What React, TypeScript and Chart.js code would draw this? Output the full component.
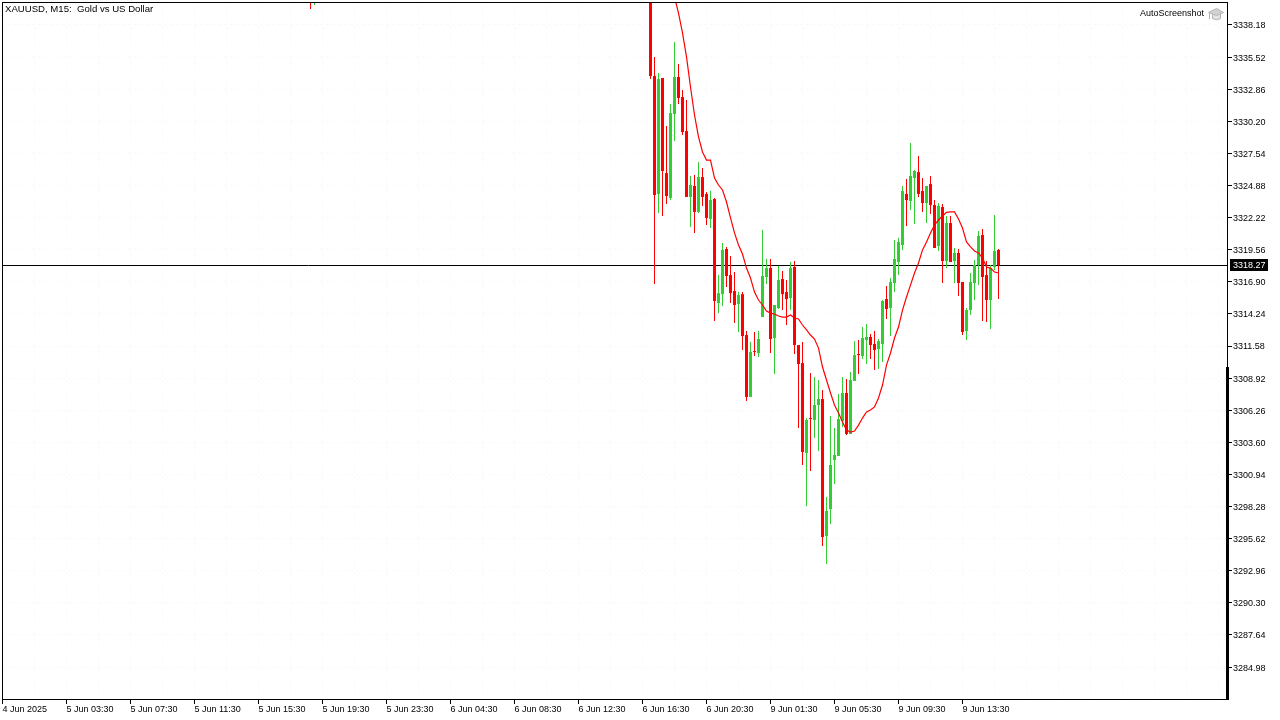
/**
 * XAUUSD M15 candlestick chart with moving average and last price line.
 * Candles are floating bars sharing one stack: a 1px wick under a 3px body.
 */

import { useEffect, useRef } from 'react';
import { Chart, registerables } from 'chart.js';

Chart.register(...registerables);

const FONT = '"Liberation Sans"';
const GREEN = '#32cd32';
const RED = '#ff0000';
const GRID = '#f9f9f9';

const lastPrice = 3318.27;
const scaleFixFrom = 3309.84;

const priceTicks = [
  3338.18, 3335.52, 3332.86, 3330.2, 3327.54, 3324.88, 3322.22, 3319.56, 3316.9, 3314.24, 3311.58,
  3308.92, 3306.26, 3303.6, 3300.94, 3298.28, 3295.62, 3292.96, 3290.3, 3287.64, 3284.98,
];

const timeLabels = [
  '4 Jun 2025', '5 Jun 03:30', '5 Jun 07:30', '5 Jun 11:30', '5 Jun 15:30', '5 Jun 19:30', '5 Jun 23:30',
  '6 Jun 04:30', '6 Jun 08:30', '6 Jun 12:30', '6 Jun 16:30', '6 Jun 20:30', '9 Jun 01:30', '9 Jun 05:30',
  '9 Jun 09:30', '9 Jun 13:30',
];

// bar numbers: two stray bars poking in at the top, then the run from 162 on
const barIndex = [77, 78, ...Array.from({ length: 88 }, (_, i) => 162 + i)];

const opens = [
  3341.49, 3340.66,
  3342.74, 3333.95, 3324.18, 3333.79, 3325.91, 3323.85, 3330.8, 3333.87, 3332.21, 3329.39,
  3323.93, 3324.84, 3322.69, 3325.58, 3324.18, 3322.11, 3323.76, 3315.14, 3315.88, 3319.62,
  3317.46, 3316.14, 3315.06, 3315.88, 3312.49, 3307.36, 3311.16, 3311.0, 3313.98, 3317.3,
  3318.04, 3312.24, 3314.73, 3317.13, 3316.05, 3315.56, 3318.13, 3311.66, 3310.17, 3302.72,
  3305.61, 3305.45, 3306.69, 3307.19, 3295.84, 3298.07, 3302.14, 3302.47, 3305.37, 3307.69,
  3304.29, 3308.68, 3310.92, 3310.75, 3312.08, 3312.33, 3311.75, 3311.33, 3311.75, 3315.47,
  3314.73, 3316.8, 3318.54, 3319.95, 3324.18, 3323.6, 3325.5, 3325.99, 3324.42, 3323.43,
  3325.0, 3323.26, 3319.87, 3323.1, 3318.62, 3321.77, 3318.62, 3319.29, 3316.88, 3312.82,
  3314.56, 3316.8, 3318.29, 3320.78, 3317.46, 3315.39, 3318.13, 3319.54,
];

const highs = [
  3341.91, 3341.91,
  3343.56, 3335.53, 3334.2, 3333.79, 3329.81, 3331.63, 3336.77, 3334.95, 3332.79, 3331.96,
  3325.67, 3325.75, 3326.83, 3326.33, 3324.34, 3324.42, 3323.85, 3317.46, 3320.12, 3319.79,
  3319.04, 3317.71, 3316.05, 3316.05, 3312.82, 3311.91, 3312.74, 3312.82, 3321.19, 3318.79,
  3318.79, 3314.98, 3318.21, 3317.79, 3317.05, 3318.54, 3318.62, 3311.66, 3311.91, 3305.61,
  3309.34, 3309.01, 3308.76, 3307.94, 3299.07, 3305.78, 3304.79, 3307.6, 3309.01, 3308.85,
  3309.42, 3311.99, 3312.08, 3313.15, 3313.4, 3312.57, 3312.82, 3312.16, 3315.39, 3316.55,
  3317.21, 3320.36, 3320.53, 3324.84, 3325.42, 3328.4, 3326.16, 3327.32, 3325.5, 3324.84,
  3325.67, 3323.68, 3323.43, 3323.35, 3322.35, 3322.35, 3319.7, 3319.62, 3316.88, 3314.73,
  3317.63, 3318.71, 3321.11, 3321.27, 3318.62, 3318.29, 3322.44, 3319.62,
];

const lows = [
  3339.5, 3339.84,
  3333.7, 3316.72, 3322.6, 3322.35, 3323.35, 3323.68, 3328.56, 3331.63, 3329.06, 3323.93,
  3321.44, 3320.95, 3322.6, 3323.18, 3321.61, 3321.36, 3313.65, 3314.31, 3314.89, 3316.47,
  3315.14, 3313.49, 3312.74, 3311.25, 3307.03, 3307.36, 3310.75, 3310.67, 3313.98, 3316.72,
  3311.0, 3309.26, 3314.65, 3314.56, 3313.32, 3314.56, 3310.92, 3304.79, 3301.72, 3298.32,
  3301.22, 3303.96, 3302.88, 3295.01, 3293.52, 3296.83, 3300.15, 3302.47, 3304.87, 3304.21,
  3304.29, 3308.68, 3309.26, 3310.5, 3310.09, 3310.5, 3309.59, 3309.67, 3310.25, 3313.82,
  3312.41, 3316.05, 3317.46, 3319.54, 3321.53, 3322.85, 3321.69, 3323.93, 3322.69, 3321.77,
  3322.52, 3319.7, 3319.45, 3316.8, 3318.04, 3318.54, 3316.8, 3315.72, 3312.49, 3312.08,
  3314.15, 3315.39, 3316.63, 3313.65, 3313.57, 3312.99, 3317.88, 3315.47,
];

const closes = [
  3340.66, 3341.49,
  3333.95, 3324.09, 3333.7, 3326.08, 3324.01, 3330.88, 3333.87, 3332.13, 3329.31, 3323.93,
  3324.92, 3322.69, 3325.58, 3323.93, 3322.19, 3323.68, 3315.31, 3315.96, 3319.54, 3317.38,
  3315.96, 3314.98, 3315.8, 3312.41, 3307.36, 3311.08, 3311.08, 3312.16, 3317.38, 3318.04,
  3312.16, 3314.98, 3317.05, 3315.88, 3315.47, 3318.04, 3311.66, 3310.09, 3302.8, 3305.45,
  3305.53, 3306.69, 3307.19, 3295.75, 3297.91, 3301.72, 3302.55, 3305.53, 3307.69, 3304.29,
  3308.76, 3310.83, 3310.83, 3312.24, 3312.33, 3311.66, 3311.25, 3311.99, 3315.31, 3314.65,
  3316.88, 3318.79, 3320.2, 3324.42, 3323.68, 3325.67, 3326.08, 3324.18, 3323.43, 3324.84,
  3323.26, 3319.7, 3323.18, 3318.62, 3321.77, 3318.54, 3319.29, 3316.8, 3312.74, 3314.56,
  3316.88, 3318.29, 3320.7, 3317.3, 3315.39, 3318.04, 3319.45, 3318.29,
];

// moving average, starts at bar 168 just above the top of the plot
const maStart = 168;
const maValues = [
  3340.5, 3339.17, 3337.52, 3335.53, 3333.04, 3330.72, 3328.9, 3327.66, 3326.99, 3326.99,
  3325.5, 3324.92, 3324.51, 3323.51, 3322.19, 3320.95, 3319.95, 3319.2, 3318.04, 3317.21,
  3316.05, 3315.39, 3314.98, 3314.48, 3314.31, 3314.23, 3314.07, 3313.98, 3313.98, 3314.15,
  3313.9, 3313.82, 3313.32, 3312.91, 3312.49, 3312.16, 3311.41, 3309.84, 3308.76, 3307.69,
  3306.69, 3306.03, 3305.28, 3304.62, 3304.45, 3304.54, 3305.03, 3305.61, 3306.11, 3306.28,
  3306.53, 3307.27, 3308.35, 3310.0, 3311.0, 3312.24, 3313.15, 3314.56, 3315.64, 3316.63,
  3317.63, 3318.46, 3319.54, 3320.2, 3320.95, 3321.61, 3322.02, 3322.35, 3322.65, 3322.69,
  3322.69, 3322.11, 3321.36, 3320.2, 3319.79, 3319.45, 3319.29, 3318.87, 3318.13, 3318.04,
  3317.71, 3317.63,
];

const candleColors = opens.map((o, i) => (closes[i] >= o ? GREEN : RED));

function drawCap(ctx: CanvasRenderingContext2D): void {
  // grey graduation cap next to the AutoScreenshot tag
  ctx.save();
  ctx.lineWidth = 1;
  ctx.strokeStyle = '#b4b4b4';
  ctx.fillStyle = '#e4e4e4';
  ctx.beginPath();
  ctx.moveTo(1212.5, 13.5);
  ctx.lineTo(1212.5, 18.5);
  ctx.quadraticCurveTo(1216.5, 21, 1220.5, 18.5);
  ctx.lineTo(1220.5, 13.5);
  ctx.closePath();
  ctx.fill();
  ctx.stroke();
  ctx.fillStyle = '#d2d2d2';
  ctx.beginPath();
  ctx.moveTo(1208.5, 12.5);
  ctx.lineTo(1216.5, 8.5);
  ctx.lineTo(1223.5, 12.5);
  ctx.lineTo(1216.5, 15.5);
  ctx.closePath();
  ctx.fill();
  ctx.stroke();
  ctx.beginPath();
  ctx.moveTo(1209.5, 13);
  ctx.lineTo(1209.5, 19);
  ctx.stroke();
  ctx.restore();
}

const terminalPlugin = {
  id: 'terminal',
  beforeDatasetsDraw(chart: Chart) {
    const { ctx, chartArea } = chart;
    const y = Math.floor(chart.scales.y.getPixelForValue(lastPrice)) + 0.5;
    ctx.save();
    ctx.strokeStyle = '#000';
    ctx.lineWidth = 1;
    ctx.beginPath();
    ctx.moveTo(chartArea.left, y);
    ctx.lineTo(chartArea.right, y);
    ctx.stroke();
    ctx.restore();
  },
  afterDraw(chart: Chart) {
    const { ctx, chartArea } = chart;
    const yScale = chart.scales.y;
    ctx.save();
    // frame
    ctx.strokeStyle = '#000';
    ctx.lineWidth = 1;
    ctx.strokeRect(chartArea.left + 0.5, chartArea.top + 0.5, chartArea.width - 1, chartArea.height - 1);
    // thick part of the price axis
    const fixY = yScale.getPixelForValue(scaleFixFrom);
    ctx.fillStyle = '#000';
    ctx.fillRect(chartArea.right - 2, fixY, 3, chartArea.bottom - fixY);
    // last price tag
    const priceY = Math.floor(yScale.getPixelForValue(lastPrice));
    ctx.fillRect(chartArea.right + 2, priceY - 6, 38, 12);
    ctx.font = `9px ${FONT}`;
    ctx.textBaseline = 'middle';
    ctx.fillStyle = '#fff';
    ctx.fillText(lastPrice.toFixed(2), chartArea.right + 5, priceY + 1);
    // captions
    ctx.fillStyle = '#000';
    ctx.fillText('AutoScreenshot', 1140, 14);
    ctx.font = `9.6px ${FONT}`;
    ctx.fillText('XAUUSD, M15:  Gold vs US Dollar', 5, 9.5);
    ctx.restore();
    drawCap(ctx);
  },
};

export default function App(): JSX.Element {
  const canvasRef = useRef<HTMLCanvasElement>(null);

  useEffect(() => {
    if (!canvasRef.current) return;
    const chart = new Chart(canvasRef.current, {
      type: 'bar',
      data: {
        datasets: [
          {
            type: 'line' as const,
            label: 'MA',
            data: maValues.map((y, i) => ({ x: maStart + i, y })),
            borderColor: RED,
            borderWidth: 1.2,
            pointRadius: 0,
            tension: 0,
            order: 0,
          },
          {
            label: 'Body',
            data: barIndex.map((x, i) => ({ x, y: [opens[i], closes[i]] })),
            backgroundColor: candleColors,
            barThickness: 3,
            inflateAmount: 0,
            stack: 'candle',
            order: 1,
          },
          {
            label: 'Wick',
            data: barIndex.map((x, i) => ({ x, y: [lows[i], highs[i]] })),
            backgroundColor: candleColors,
            barThickness: 1,
            inflateAmount: 0,
            stack: 'candle',
            order: 2,
          },
        ],
      },
      options: {
        responsive: false,
        animation: false,
        layout: { padding: { left: 2, top: 2, right: 0, bottom: 0 } },
        plugins: { legend: { display: false }, title: { display: false }, tooltip: { enabled: false } },
        scales: {
          x: {
            type: 'linear',
            min: -0.125,
            max: 306.375,
            offset: false,
            afterBuildTicks: scale => {
              // a grid line every 8 bars, a label on every second one
              scale.ticks = Array.from({ length: 39 }, (_, i) => ({ value: i * 8 }));
            },
            afterFit: scale => {
              scale.height = 20;
              scale.paddingLeft = 0;
              scale.paddingRight = 0;
            },
            border: { display: false, dash: [3, 3] },
            grid: {
              offset: false,
              color: GRID,
              tickColor: ctx => (ctx.index % 2 === 0 && ctx.index / 2 < timeLabels.length ? '#000' : 'rgba(0,0,0,0)'),
              tickLength: 4,
              tickBorderDash: [],
            },
            ticks: {
              autoSkip: false,
              maxRotation: 0,
              align: 'start',
              padding: 0,
              color: '#000',
              font: { family: FONT, size: 9 },
              callback: (_v, i) => (i % 2 === 0 ? timeLabels[i / 2] ?? '' : ''),
            },
          },
          y: {
            type: 'linear',
            position: 'right',
            stacked: false,
            min: 3282.25,
            max: 3340.084,
            afterBuildTicks: scale => {
              scale.ticks = priceTicks.map(value => ({ value }));
            },
            afterFit: scale => {
              scale.width = 52;
              scale.paddingTop = 0;
              scale.paddingBottom = 0;
            },
            border: { display: false, dash: [3, 3] },
            grid: { color: GRID, tickColor: '#000', tickLength: 4, tickBorderDash: [] },
            ticks: {
              autoSkip: false,
              padding: 1,
              labelOffset: 1,
              color: '#000',
              font: { family: FONT, size: 9 },
              callback: v => Number(v).toFixed(2),
            },
          },
        },
      },
      plugins: [terminalPlugin],
    });
    return () => chart.destroy();
  }, []);

  return (
    <div style={{ position: 'absolute', left: 0, top: 0, width: 1280, height: 720, background: '#fff' }}>
      <canvas ref={canvasRef} width={1280} height={720} role="img" aria-label="XAUUSD M15 candlestick chart" />
    </div>
  );
}
